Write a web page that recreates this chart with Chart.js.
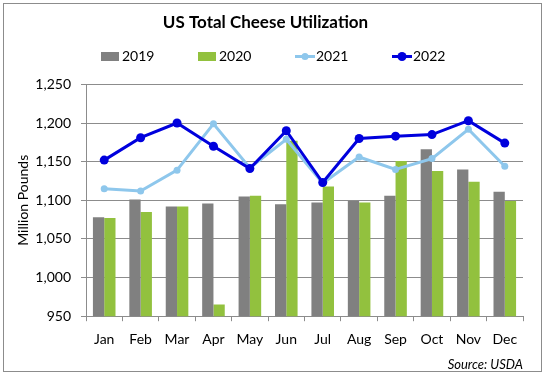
<!DOCTYPE html>
<html>
<head>
<meta charset="utf-8">
<script src="https://cdn.jsdelivr.net/npm/chart.js@4"></script>
<style>
  html, body { margin: 0; padding: 0; background: #fff; }
  #wrap { position: relative; width: 546px; height: 376px; }
</style>
</head>
<body>
<div id="wrap"><canvas id="cheeseChart" width="546" height="376"></canvas></div>
<script>
const months = ["Jan", "Feb", "Mar", "Apr", "May", "Jun", "Jul", "Aug", "Sep", "Oct", "Nov", "Dec"];

const y2019 = [1078, 1101, 1092, 1096, 1105, 1095, 1097, 1099, 1106, 1166, 1140, 1111];
const y2020 = [1077, 1085, 1092, 965, 1106, 1177, 1118, 1097, 1151, 1138, 1124, 1099];
const y2021 = [1115, 1112, 1139, 1199, 1142, 1179, 1122, 1156, 1140, 1154, 1192, 1144];
const y2022 = [1152, 1181, 1200, 1170, 1141, 1190, 1123, 1180, 1183, 1185, 1203, 1174];

const gray = '#808080';
const green = '#92c13e';
const lightBlue = '#8ec7ec';
const darkBlue = '#0000dd';
const font = 'Lato';

// legend row + outer frame, drawn like the spreadsheet version
const frameAndLegend = {
  id: 'frameAndLegend',
  afterDraw(chart) {
    const ctx = chart.ctx;
    ctx.save();
    ctx.strokeStyle = '#8c8c8c';
    ctx.lineWidth = 1;
    ctx.strokeRect(3.5, 3.5, 538, 368);

    const cy = 56.5;
    chart.data.datasets.forEach((ds, i) => {
      const x = 101 + i * 97;
      if (ds.type === 'bar') {
        ctx.fillStyle = ds.backgroundColor;
        ctx.fillRect(x, cy - 4.5, 18, 9);
      } else {
        ctx.strokeStyle = ds.borderColor;
        ctx.lineWidth = 3;
        ctx.beginPath();
        ctx.moveTo(x, cy);
        ctx.lineTo(x + 20, cy);
        ctx.stroke();
        ctx.fillStyle = ds.pointBackgroundColor;
        ctx.beginPath();
        ctx.arc(x + 10, cy, ds.pointRadius, 0, Math.PI * 2);
        ctx.fill();
      }
      ctx.fillStyle = '#000';
      ctx.font = '14px ' + font;
      ctx.textBaseline = 'middle';
      ctx.textAlign = 'left';
      ctx.fillText(ds.label, x + 21, cy);
    });
    ctx.restore();
  }
};

const data = {
  labels: months,
  datasets: [
    {
      type: 'bar',
      label: '2019',
      data: y2019,
      backgroundColor: gray,
      order: 3,
      categoryPercentage: 0.62,
      barPercentage: 1.0
    },
    {
      type: 'bar',
      label: '2020',
      data: y2020,
      backgroundColor: green,
      order: 4,
      categoryPercentage: 0.62,
      barPercentage: 1.0
    },
    {
      type: 'line',
      label: '2021',
      data: y2021,
      borderColor: lightBlue,
      backgroundColor: lightBlue,
      pointBackgroundColor: lightBlue,
      pointBorderColor: lightBlue,
      borderWidth: 3,
      pointRadius: 3.5,
      pointBorderWidth: 0,
      fill: false,
      order: 2
    },
    {
      type: 'line',
      label: '2022',
      data: y2022,
      borderColor: darkBlue,
      backgroundColor: darkBlue,
      pointBackgroundColor: darkBlue,
      pointBorderColor: darkBlue,
      borderWidth: 3,
      pointRadius: 4.5,
      pointBorderWidth: 0,
      fill: false,
      order: 1
    }
  ]
};

const config = {
  data: data,
  options: {
    responsive: false,
    animation: false,
    layout: {
      padding: { left: 8, right: 23, top: 0, bottom: 5 }
    },
    plugins: {
      legend: { display: false },
      tooltip: { enabled: false },
      title: {
        display: true,
        text: 'US Total Cheese Utilization',
        color: '#000',
        font: { family: font, size: 17, weight: 'bold' },
        padding: { top: 12, bottom: 52 }
      },
      subtitle: {
        display: true,
        text: 'Source: USDA',
        position: 'bottom',
        align: 'end',
        color: '#000',
        font: { family: font, size: 13, style: 'italic', lineHeight: 1 },
        padding: { top: 0, bottom: 0 }
      }
    },
    scales: {
      x: {
        grid: {
          offset: true,
          drawOnChartArea: false,
          drawTicks: true,
          tickLength: 5,
          color: '#8c8c8c'
        },
        border: { color: '#8c8c8c' },
        ticks: {
          color: '#000',
          font: { family: font, size: 14 },
          padding: 10,
          maxRotation: 0
        }
      },
      y: {
        min: 950,
        max: 1250,
        afterFit: (scale) => { scale.width = 78; },
        ticks: {
          stepSize: 50,
          color: '#000',
          font: { family: font, size: 14 },
          padding: 10
        },
        grid: {
          color: '#8c8c8c',
          tickLength: 5
        },
        border: { color: '#8c8c8c' },
        title: {
          display: true,
          text: 'Million Pounds',
          color: '#000',
          font: { family: font, size: 14 },
          padding: { top: 7, bottom: 0 }
        }
      }
    }
  },
  plugins: [frameAndLegend]
};

const canvas = document.getElementById('cheeseChart');
if (canvas) {
  new Chart(canvas.getContext('2d'), config);
} else {
  console.error('Canvas not found.');
}
</script>
</body>
</html>
